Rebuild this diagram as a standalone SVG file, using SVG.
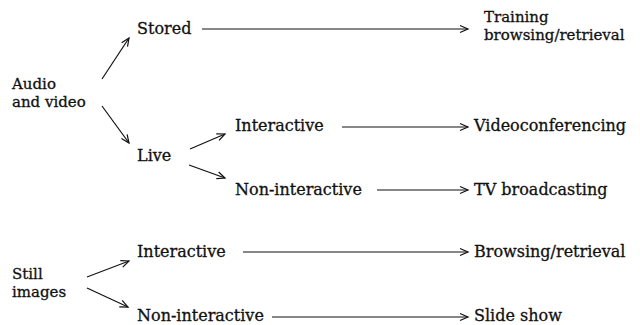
<svg xmlns="http://www.w3.org/2000/svg" width="640" height="325" viewBox="0 0 640 325">
<style>
text { font-family: "DejaVu Serif", "Liberation Serif", serif; font-size: 16px; fill: #111; stroke: #111; stroke-width: 0.3; }
text.m { font-size: 15px; }
.c line { stroke: #111; stroke-width: 1.2; fill: none; marker-end: url(#ah); }
</style>
<defs>
<marker id="ah" markerUnits="userSpaceOnUse" markerWidth="12" markerHeight="10" refX="9" refY="5" orient="auto" viewBox="0 0 12 10">
<path d="M1,1.5 L9,5 L1,8.5" fill="none" stroke="#111" stroke-width="1.2"/>
</marker>
</defs>
<rect width="640" height="325" fill="#fff"/>
<g id="n-av"><text class="m" x="12" y="89">Audio</text><text class="m" x="12" y="106.6">and video</text></g>
<g id="n-stored"><text x="137" y="34">Stored</text></g>
<g id="n-live"><text x="137" y="161">Live</text></g>
<g id="n-int1"><text x="235" y="131">Interactive</text></g>
<g id="n-nonint1"><text x="235" y="195">Non-interactive</text></g>
<g id="n-training"><text class="m" x="484" y="22">Training</text><text class="m" x="484" y="39.6">browsing/retrieval</text></g>
<g id="n-video"><text x="474" y="131">Videoconferencing</text></g>
<g id="n-tv"><text x="474" y="195">TV broadcasting</text></g>
<g id="n-still"><text class="m" x="12" y="279">Still</text><text class="m" x="12" y="296.6">images</text></g>
<g id="n-int2"><text x="137" y="257">Interactive</text></g>
<g id="n-nonint2"><text x="137" y="321">Non-interactive</text></g>
<g id="n-browse"><text x="474" y="257">Browsing/retrieval</text></g>
<g id="n-slide"><text x="474" y="321">Slide show</text></g>
<g id="connectors" class="c">
<line x1="102" y1="79" x2="129" y2="38"/>
<line x1="102" y1="106" x2="129" y2="143"/>
<line x1="190" y1="149" x2="225" y2="134"/>
<line x1="189" y1="165" x2="225" y2="178"/>
<line x1="87" y1="277" x2="129" y2="261"/>
<line x1="87" y1="288" x2="128" y2="307"/>
<line x1="202" y1="29" x2="468" y2="29"/>
<line x1="342" y1="127" x2="468" y2="127"/>
<line x1="377" y1="190" x2="468" y2="190"/>
<line x1="243" y1="252" x2="468" y2="252"/>
<line x1="272" y1="317" x2="468" y2="317"/>
</g>
</svg>
